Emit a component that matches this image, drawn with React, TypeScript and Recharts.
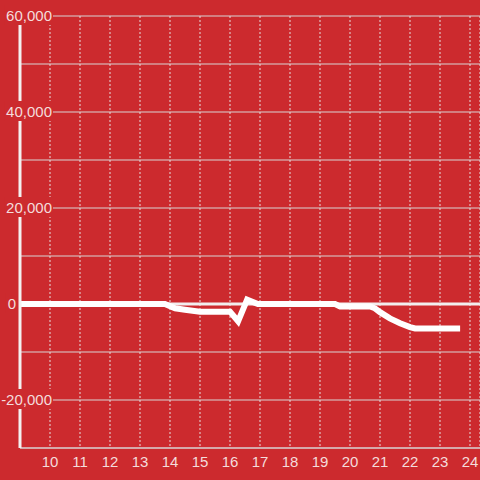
import React from 'react';
import {
  LineChart,
  Line,
  XAxis,
  YAxis,
  CartesianGrid,
  ReferenceLine,
} from 'recharts';

// hour of day (decimal) and the value at that moment
const hours = [9, 13.83, 14.17, 14.5, 15, 16, 16.27, 16.57, 16.93, 19.5, 19.67, 20.67, 20.83, 21, 21.33, 21.67, 22, 22.17, 23.67];
const values = [0, 0, -900, -1200, -1600, -1600, -3600, 900, 0, 0, -500, -500, -900, -1700, -3000, -4000, -4800, -5100, -5100];

const xTicks = [10, 11, 12, 13, 14, 15, 16, 17, 18, 19, 20, 21, 22, 23, 24];
const yTicks = [-30000, -20000, -10000, 0, 10000, 20000, 30000, 40000, 50000, 60000];
const yLabelled = [-20000, 0, 20000, 40000, 60000];

const data = hours.map((h, i) => ({ hour: h, value: values[i] }));

const BG = '#cc2a2e';
const TEXT = '#f4dcdc';
const FONT = '"Liberation Sans", Arial, sans-serif';

const fmt = (v: number) => v.toLocaleString('en-US');

// label with a red box behind it, so the axis line and grid break around it
function YTick(props: any) {
  const { x, y, payload } = props;
  const v = payload.value;
  if (!yLabelled.includes(v)) return null;
  const label = fmt(v);
  let w = 0;
  for (const c of label) w += c === ',' ? 4.2 : c === '-' ? 5 : 8.34;
  const end = v === 0 ? x - 4 : x + 32;
  return (
    <g>
      <rect x={end - w - 2} y={y - 11} width={w + 3} height={20} fill={BG} />
      <text x={end} y={y} dy="0.35em" textAnchor="end" fill={TEXT} fontSize={15} fontFamily={FONT}>
        {label}
      </text>
    </g>
  );
}

export default function App() {
  return (
    <div style={{ position: 'absolute', top: 0, left: 0, width: 480, height: 480, background: BG }}>
      <LineChart width={480} height={480} data={data} margin={{ top: 16, right: 0, bottom: 0, left: 0 }}>
        <CartesianGrid horizontal vertical={false} stroke="#d8d4d4" />
        <CartesianGrid horizontal={false} vertical stroke="#e6dede" strokeDasharray="2 2" />
        <XAxis
          type="number"
          dataKey="hour"
          domain={[9, 24.333]}
          ticks={xTicks}
          allowDataOverflow
          axisLine={{ stroke: '#d8d4d4' }}
          tickLine={false}
          tick={{ fill: TEXT, fontSize: 15, fontFamily: FONT }}
          height={32}
        />
        <YAxis
          type="number"
          domain={[-30000, 60000]}
          ticks={yTicks}
          width={20}
          tickSize={0}
          tickMargin={0}
          tickLine={false}
          axisLine={{ stroke: '#f4f0f0', strokeWidth: 3 }}
          tick={<YTick />}
        />
        <ReferenceLine y={0} stroke="#f2eeee" strokeWidth={3} />
        <Line
          type="linear"
          dataKey="value"
          stroke="#ffffff"
          strokeWidth={6}
          dot={false}
          isAnimationActive={false}
        />
      </LineChart>
    </div>
  );
}
